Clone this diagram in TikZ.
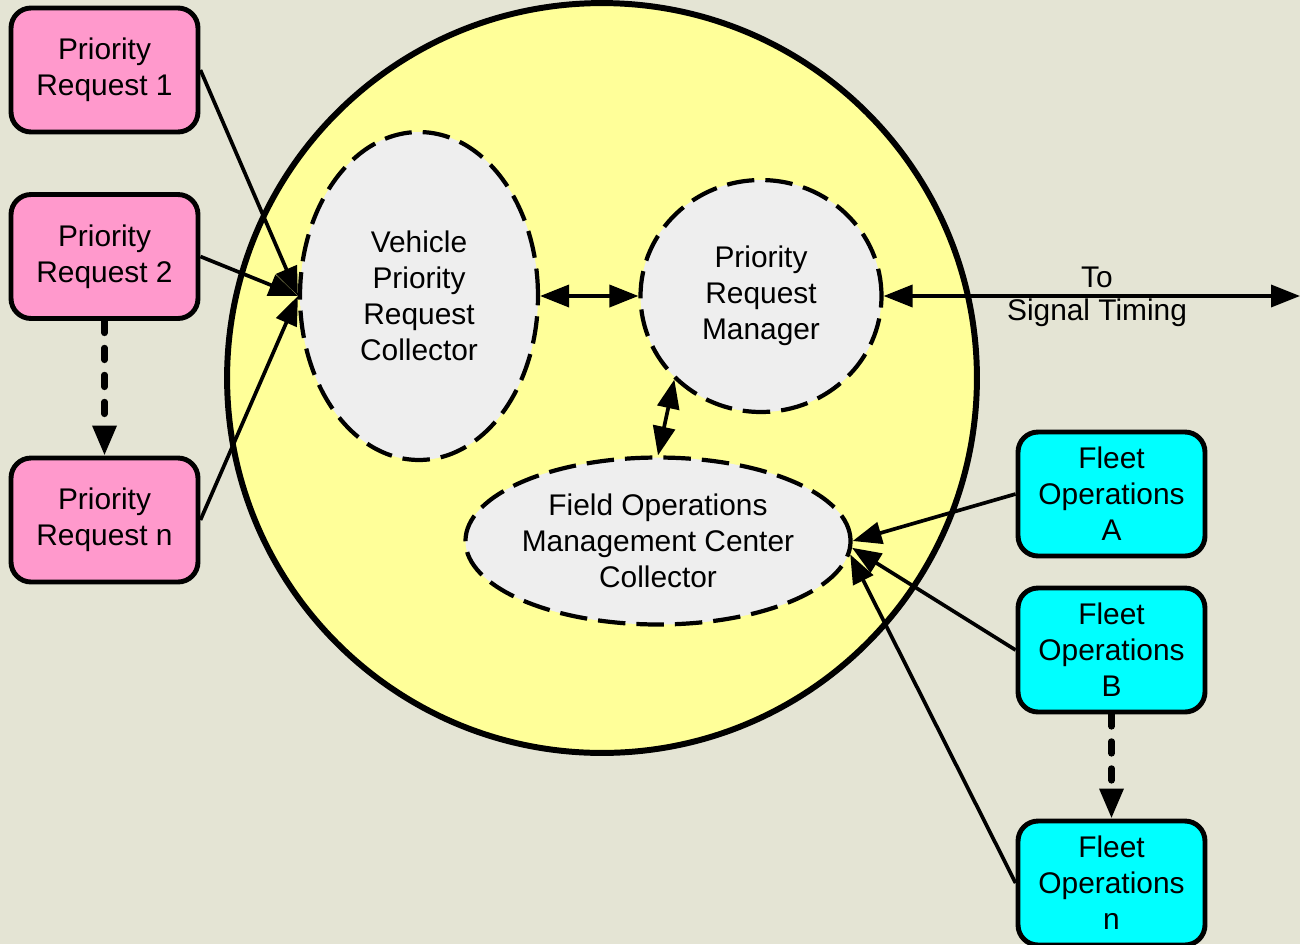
\documentclass[tikz,border=0pt]{standalone}
\usepackage{fontspec}
\setmainfont{Liberation Sans}
\usetikzlibrary{arrows.meta,shapes.geometric}

\definecolor{bgtan}{RGB}{228,228,212}
\definecolor{reqpink}{RGB}{255,153,204}
\definecolor{fleetcyan}{RGB}{0,255,255}
\definecolor{sysyellow}{RGB}{255,255,153}
\definecolor{procgray}{RGB}{238,238,238}

\tikzset{
  reqbox/.style={draw, line width=2.8pt, rounded corners=0.4cm, fill=reqpink,
    minimum width=3.74cm, minimum height=2.48cm, inner sep=0pt},
  fleetbox/.style={reqbox, fill=fleetcyan},
  proc/.style={ellipse, draw, fill=procgray, line width=2.4pt,
    dash pattern=on 0.55cm off 0.22cm, inner sep=0pt},
  flow/.style={line width=2.1pt, -{Triangle[length=0.58cm,width=0.44cm]}},
  twoway/.style={line width=2.1pt, {Triangle[length=0.58cm,width=0.44cm]}-{Triangle[length=0.58cm,width=0.44cm]}},
  seq/.style={line width=3.6pt, line cap=round, dash pattern=on 0.24cm off 0.3cm,
    -{Triangle[length=0.6cm,width=0.46cm]}}
}

\begin{document}
\begin{tikzpicture}[x=0.02cm, y=-0.02cm,
  every node/.style={font=\fontsize{17}{20.5}\selectfont, align=center}]
\useasboundingbox (0,0) rectangle (1300,944);
\fill[bgtan] (0,0) rectangle (1300,944);

% system
\node[circle, draw, fill=sysyellow, line width=3.4pt, minimum size=15cm, inner sep=0pt] (sys) at (602,378) {};

\node[proc, minimum width=4.76cm, minimum height=6.56cm] (vc) at (419,296) {Vehicle\\Priority\\Request\\Collector};
\node[proc, minimum width=4.82cm, minimum height=4.64cm] (prm) at (761,296) {Priority\\Request\\Manager};
\node[proc, minimum width=7.66cm, minimum height=3.34cm] (fomc) at (658,541) {Field Operations\\Management Center\\Collector};

% requests
\node[reqbox] (pr1) at (104.5,70) {Priority\\Request 1};
\node[reqbox] (pr2) at (104.5,256.5) {Priority\\Request 2};
\node[reqbox] (prn) at (104.5,520) {Priority\\Request n};

% fleets
\node[fleetbox] (foa) at (1111.5,494) {Fleet\\Operations\\A};
\node[fleetbox] (fob) at (1111.5,650) {Fleet\\Operations\\B};
\node[fleetbox] (fon) at (1111.5,883) {Fleet\\Operations\\n};

\coordinate (sig) at (1300,296);
\node (to) at (1097,277) {To};
\node (sigtxt) at (1097,313) {Signal Timing};

\draw[flow] (pr1.east) -- (vc.west);
\draw[flow] (pr2.east) -- (vc.west);
\draw[flow] (prn.east) -- (vc.west);
\draw[seq] (pr2.south) -- (prn.north);

\draw[twoway] (vc.east) -- (prm.west);
\draw[twoway] (prm.south west) -- (fomc.north);
\draw[twoway] (prm.east) -- (sig);

\draw[flow] (foa.west) -- (fomc.east);
\draw[flow] (fob.west) -- (fomc.-2);
\draw[flow] (fon.west) -- (fomc.-4);
\draw[seq] (fob.south) -- (fon.north);

\end{tikzpicture}
\end{document}
